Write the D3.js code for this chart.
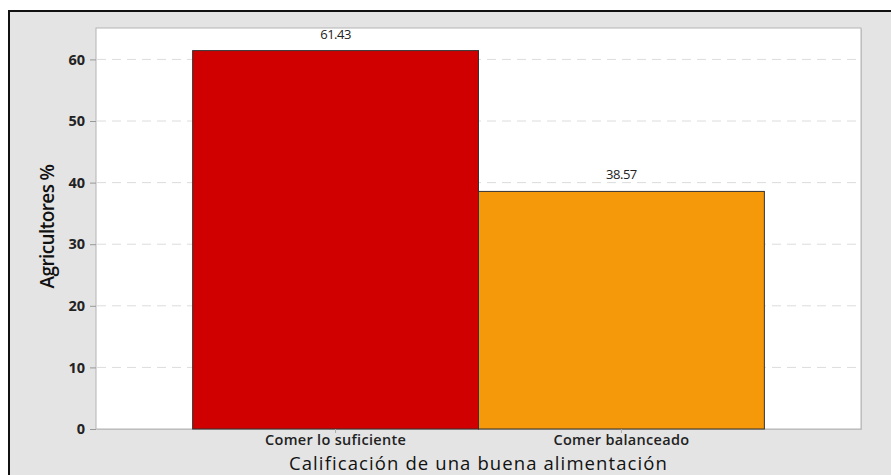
<!DOCTYPE html>
<html>
<head>
<meta charset="utf-8">
<script src="https://cdn.jsdelivr.net/npm/d3@7"></script>
<style>
  body { margin: 0; background: #fff; }
  svg { display: block; }
</style>
</head>
<body>
<svg width="891" height="475"></svg>
<script>
const categories = ["Comer lo suficiente", "Comer balanceado"];
const values = [61.43, 38.57];
const colors = ["#d10000", "#f5980a"];
const yTicks = [0, 10, 20, 30, 40, 50, 60];

const svg = d3.select("svg");
const width = +svg.attr("width");
const height = +svg.attr("height");
const font = "'Open Sans', 'DejaVu Sans', sans-serif";

// outer frame
svg.append("rect")
  .attr("x", 0).attr("y", 0).attr("width", width).attr("height", height)
  .attr("fill", "#fff");
svg.append("rect")
  .attr("x", 9).attr("y", 11).attr("width", width).attr("height", height)
  .attr("fill", "#e4e4e4")
  .attr("stroke", "#111")
  .attr("stroke-width", 2);

const plot = { left: 96, top: 28, right: 861, bottom: 429 };

const x = d3.scaleBand()
  .domain(categories)
  .range([plot.left, plot.right])
  .paddingInner(0)
  .paddingOuter(0.338);

const y = d3.scaleLinear()
  .domain([0, 65.1])
  .range([plot.bottom, plot.top]);

// plot area
svg.append("rect")
  .attr("x", plot.left + 1).attr("y", plot.top + 1)
  .attr("width", plot.right - plot.left).attr("height", plot.bottom - plot.top)
  .attr("fill", "#c8c8c8");
svg.append("rect")
  .attr("x", plot.left).attr("y", plot.top)
  .attr("width", plot.right - plot.left).attr("height", plot.bottom - plot.top)
  .attr("fill", "#fff")
  .attr("stroke", "#b4b4b4")
  .attr("stroke-width", 1);

// gridlines
svg.append("g")
  .selectAll("line")
  .data(yTicks.filter(d => d > 0))
  .join("line")
  .attr("x1", plot.left + 1).attr("x2", plot.right - 1)
  .attr("y1", d => y(d)).attr("y2", d => y(d))
  .attr("stroke", "#dcdcdc")
  .attr("stroke-dasharray", "9,6");

// bars
svg.append("g")
  .selectAll("rect")
  .data(values)
  .join("rect")
  .attr("x", (d, i) => x(categories[i]))
  .attr("y", d => y(d))
  .attr("width", x.bandwidth())
  .attr("height", d => y(0) - y(d))
  .attr("fill", (d, i) => colors[i])
  .attr("stroke", "#333")
  .attr("stroke-width", 1);

// value labels
svg.append("g")
  .selectAll("text")
  .data(values)
  .join("text")
  .attr("x", (d, i) => x(categories[i]) + x.bandwidth() / 2)
  .attr("y", d => y(d) - 12)
  .attr("text-anchor", "middle")
  .attr("font-family", font)
  .attr("font-size", "13px")
  .attr("letter-spacing", "-0.5px")
  .attr("fill", "#222")
  .text(d => d.toFixed(2));

// y axis
const yAxis = svg.append("g")
  .attr("transform", `translate(${plot.left},0)`)
  .call(d3.axisLeft(y).tickValues(yTicks).tickSize(6).tickPadding(5));
yAxis.select(".domain").remove();
yAxis.selectAll(".tick line").attr("stroke", "#999");
yAxis.selectAll(".tick text")
  .attr("font-family", font)
  .attr("font-size", "14.5px")
  .attr("font-weight", "bold")
  .attr("fill", "#222");

// x axis
const xAxis = svg.append("g")
  .attr("transform", `translate(0,${plot.bottom})`)
  .call(d3.axisBottom(x).tickSize(4).tickPadding(2));
xAxis.select(".domain").remove();
xAxis.selectAll(".tick line").attr("stroke", "#aaa");
xAxis.selectAll(".tick text")
  .attr("font-family", font)
  .attr("font-size", "14.5px")
  .attr("font-weight", "600")
  .attr("letter-spacing", "0.3px")
  .attr("fill", "#222");

// axis titles
svg.append("text")
  .attr("transform", `translate(54,${(plot.top + plot.bottom) / 2 - 2}) rotate(-90)`)
  .attr("text-anchor", "middle")
  .attr("font-family", font)
  .attr("font-size", "19px")
  .attr("font-weight", "600")
  .attr("letter-spacing", "-0.6px")
  .attr("fill", "#111")
  .text("Agricultores %");

svg.append("text")
  .attr("x", (plot.left + plot.right) / 2)
  .attr("y", 470)
  .attr("text-anchor", "middle")
  .attr("font-family", font)
  .attr("font-size", "18.5px")
  .attr("letter-spacing", "1.1px")
  .attr("fill", "#111")
  .text("Calificación de una buena alimentación");
</script>
</body>
</html>
